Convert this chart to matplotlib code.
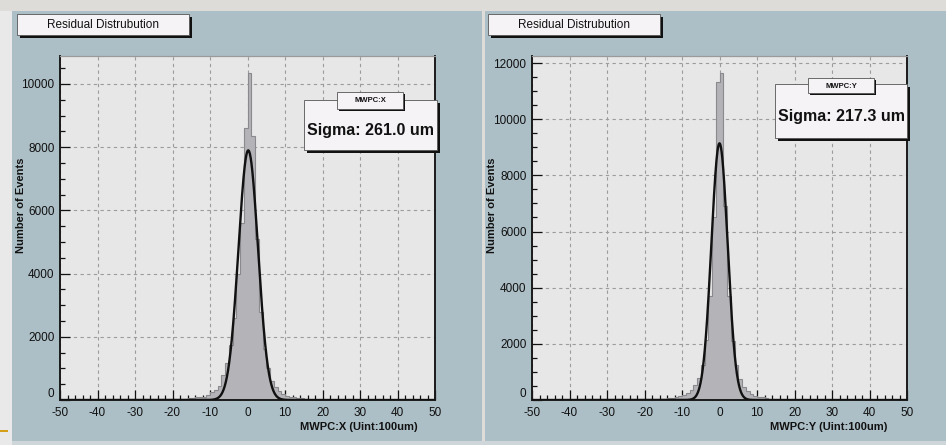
import numpy as np
import matplotlib as mpl
import matplotlib.pyplot as plt
from matplotlib.patches import Rectangle

# histogram bins of width 1, lower edge from -16 to 15 (all other bins empty)
BIN_START = -16
COUNTS_X = [60, 70, 80, 100, 110, 150, 250, 330, 450, 800, 1180, 1750, 2600, 4000,
            5600, 8600, 10350, 8350, 5100, 2800, 1600, 1000, 600, 400, 280, 180,
            130, 100, 80, 60, 50, 40]
COUNTS_Y = [40, 50, 60, 80, 100, 130, 180, 250, 350, 550, 800, 1250, 2150, 3700,
            6500, 11340, 11660, 6900, 3700, 2100, 1250, 750, 480, 330, 230, 160,
            120, 90, 70, 50, 40, 30]

# gaussian fit results (amplitude, mean, sigma in units of 100 um)
FIT_X = (7900, 0.2, 2.61)
FIT_Y = (9140, 0.0, 2.173)

SIGMA_LABELS = ["Sigma: 261.0 um", "Sigma: 217.3 um"]
STAT_TITLES = ["MWPC:X", "MWPC:Y"]
XLABELS = ["MWPC:X (Uint:100um)", "MWPC:Y (Uint:100um)"]
TITLE = "Residual Distrubution"
YLABEL = "Number of Events"
YMAX = [10886, 12250]

W, H = 946, 445
COLORS = {
    "panel": "#adbfc6",
    "frame_bg": "#e7e7e7",
    "hist": "#b4b3b8",
    "hist_edge": "#8a898e",
    "grid": "#9c9c9c",
    "box": "#f6f3f6",
    "text": "#111111",
    "outer": "#dedcd8",
}

mpl.rcParams.update({
    "font.family": ["Liberation Sans", "DejaVu Sans"],
    "font.size": 8.5,
    "axes.unicode_minus": False,
    "text.color": COLORS["text"],
    "xtick.color": COLORS["text"],
    "ytick.color": COLORS["text"],
})


def px_axes(fig, x0, x1, ytop, ybot, **kw):
    return fig.add_axes([x0 / W, 1 - ybot / H, (x1 - x0) / W, (ybot - ytop) / H], **kw)


def draw_box(ax, x0, y0, x1, y1, shadow=3):
    ax.add_patch(Rectangle((x0 + shadow, y0 + shadow), x1 - x0, y1 - y0,
                           facecolor="#111111", edgecolor="none"))
    ax.add_patch(Rectangle((x0, y0), x1 - x0, y1 - y0,
                           facecolor=COLORS["box"], edgecolor="#555555", linewidth=0.6))


def draw_hist(ax, counts, fit, ymax):
    edges = np.arange(BIN_START, BIN_START + len(counts) + 1)
    ax.set_facecolor(COLORS["frame_bg"])
    ax.stairs(counts, edges, fill=True, color=COLORS["hist"], zorder=2)
    ax.stairs(counts, edges, color=COLORS["hist_edge"], linewidth=0.8, zorder=2)
    amp, mu, sig = fit
    xs = np.linspace(-50, 50, 2001)
    ax.plot(xs, amp * np.exp(-0.5 * ((xs - mu) / sig) ** 2), color="#111111",
            linewidth=1.7, zorder=3)
    ax.set_xlim(-50, 50)
    ax.set_ylim(0, ymax)
    ax.set_xticks(np.arange(-50, 51, 10))
    ax.set_xticks(np.arange(-50, 51, 2), minor=True)
    ax.set_yticks(np.arange(0, ymax, 2000))
    ax.set_yticks(np.arange(0, ymax, 500), minor=True)
    ax.tick_params(which="both", direction="in", top=False, right=False,
                   width=0.9, labelsize=8.5)
    ax.tick_params(which="major", length=7)
    ax.tick_params(which="minor", length=3.5)
    ax.tick_params(axis="x", which="major", pad=5)
    ax.tick_params(axis="y", which="major", pad=4)
    ax.grid(which="major", color=COLORS["grid"], linestyle=(0, (3, 3)), linewidth=0.8)
    ax.set_axisbelow(True)
    for side in ("left", "bottom", "right"):
        ax.spines[side].set_linewidth(1.4)
        ax.spines[side].set_color("#1a1a1a")
    ax.spines["top"].set_color("#9a9a9a")
    ax.spines["top"].set_linewidth(0.9)
    for lab in ax.get_xticklabels() + ax.get_yticklabels():
        lab.set_fontweight("medium")
    # the "0" label sits a touch above the axis so it clears "-50"
    ax.get_yticklabels()[0].set_verticalalignment("bottom")


def main():
    fig = plt.figure(figsize=(W / 100, H / 100), dpi=100)
    fig.patch.set_facecolor(COLORS["outer"])

    bg = fig.add_axes([0, 0, 1, 1], zorder=-5)
    bg.set_xlim(0, W)
    bg.set_ylim(H, 0)
    bg.axis("off")
    bg.add_patch(Rectangle((0, 11), 12, H - 11, facecolor="#e9e9e9", edgecolor="none"))
    bg.add_patch(Rectangle((0, 429.5), 8, 2.5, facecolor="#d4a017", edgecolor="none"))
    bg.add_patch(Rectangle((12, 11), 470, 430, facecolor=COLORS["panel"], edgecolor="none"))
    bg.add_patch(Rectangle((485, 11), W - 485, 430, facecolor=COLORS["panel"], edgecolor="none"))
    bg.add_patch(Rectangle((12, 441), W - 12, 4, facecolor="#cfd6d9", edgecolor="none"))

    ax1 = px_axes(fig, 60, 435, 56, 400)
    ax2 = px_axes(fig, 532, 907, 56, 400)
    draw_hist(ax1, COUNTS_X, FIT_X, YMAX[0])
    draw_hist(ax2, COUNTS_Y, FIT_Y, YMAX[1])

    ov = fig.add_axes([0, 0, 1, 1], zorder=10)
    ov.set_xlim(0, W)
    ov.set_ylim(H, 0)
    ov.axis("off")

    # title boxes
    for x0 in (17, 488):
        draw_box(ov, x0, 14, x0 + 172, 35, shadow=3)
        ov.text(x0 + 86, 24.5, TITLE, ha="center", va="center", fontsize=8.5,
                fontweight="medium")

    # stats boxes
    stat_boxes = [((304, 100, 437, 150), (337, 92, 403, 109)),
                  ((775, 84, 907, 138), (808, 78, 874, 93))]
    for (outer, inner), sig, name in zip(stat_boxes, SIGMA_LABELS, STAT_TITLES):
        draw_box(ov, *outer, shadow=3)
        draw_box(ov, *inner, shadow=2)
        ov.text((inner[0] + inner[2]) / 2, (inner[1] + inner[3]) / 2 + 0.5, name,
                ha="center", va="center", fontsize=5.5, fontweight="bold")
        ov.text((outer[0] + outer[2]) / 2, (inner[3] + outer[3]) / 2 + 1, sig,
                ha="center", va="center", fontsize=11.5, fontweight="bold")

    # axis titles
    for x, xr, lab in ((21, 418, XLABELS[0]), (492, 887, XLABELS[1])):
        ov.text(x, 205, YLABEL, rotation=90, ha="center", va="center",
                fontsize=8, fontweight="bold")
        ov.text(xr, 427, lab, ha="right", va="center", fontsize=8, fontweight="bold")

    fig.savefig("out.png", dpi=100, facecolor=fig.get_facecolor())
    plt.close(fig)


if __name__ == "__main__":
    main()
